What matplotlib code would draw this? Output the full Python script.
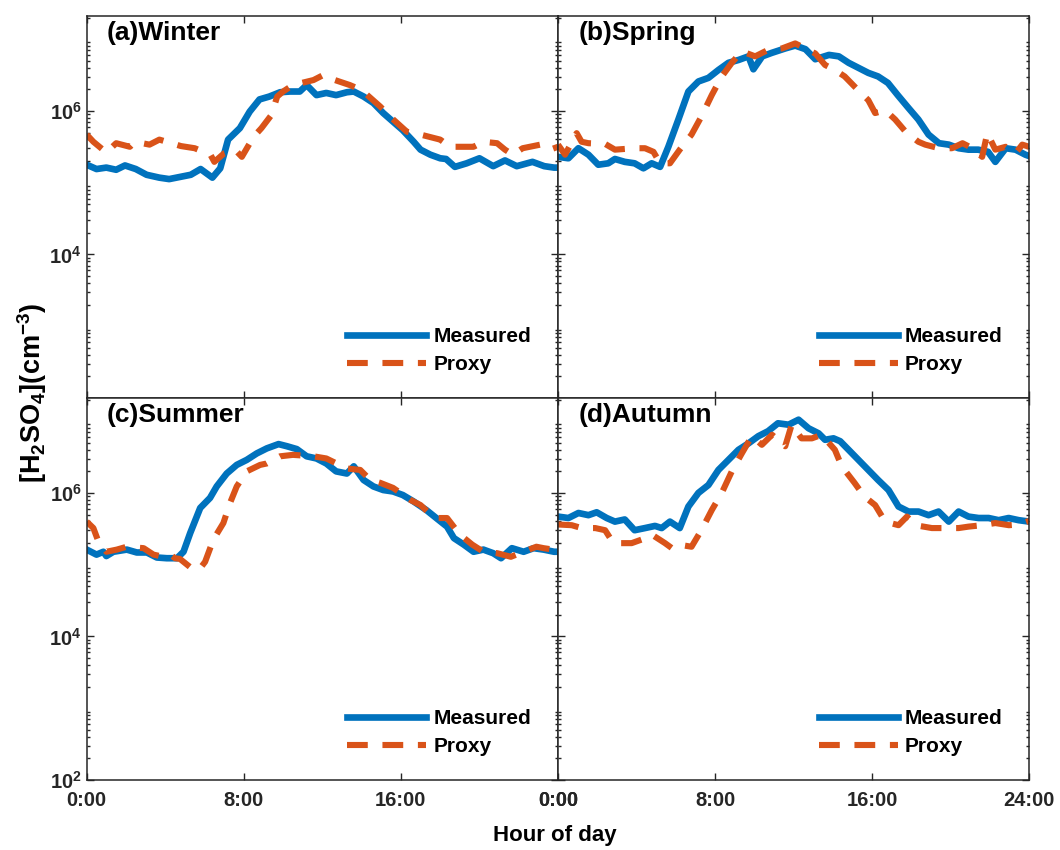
import matplotlib
matplotlib.use("Agg")
import matplotlib.pyplot as plt
import numpy as np
from matplotlib.ticker import FixedLocator, LogLocator, NullFormatter, FuncFormatter

plt.rcParams['font.family'] = ['Liberation Sans', 'DejaVu Sans']
plt.rcParams['font.weight'] = 'bold'
plt.rcParams['mathtext.fontset'] = 'custom'
plt.rcParams['mathtext.rm'] = 'Liberation Sans:bold'
plt.rcParams['mathtext.bf'] = 'Liberation Sans:bold'
plt.rcParams['mathtext.it'] = 'Liberation Sans:bold'

# diurnal H2SO4, log10 of concentration (cm^-3) against hour of day
winter_meas_h = [0, 0.5, 1.0, 1.5, 1.95, 2.5, 3.05, 3.7, 4.2, 4.75, 5.3, 5.8, 6.4, 6.8, 7.2, 7.8,
                 8.3, 8.8, 9.3, 9.85, 10.35, 10.85, 11.2, 11.7, 12.2, 12.7, 13.25, 13.6, 14.1,
                 14.6, 15.1, 15.6, 16.1, 16.65, 17.0, 17.5, 18.0, 18.3, 18.75, 19.35, 20.0,
                 20.7, 21.3, 21.9, 22.7, 23.3, 23.8, 24]
winter_meas = [5.25, 5.19, 5.21, 5.18, 5.24, 5.19, 5.11, 5.07, 5.05, 5.08, 5.11, 5.19, 5.07, 5.20,
               5.60, 5.76, 5.99, 6.16, 6.20, 6.26, 6.27, 6.27, 6.36, 6.22, 6.25, 6.22, 6.26, 6.27,
               6.20, 6.11, 5.97, 5.85, 5.73, 5.57, 5.46, 5.39, 5.34, 5.33, 5.22, 5.27, 5.34,
               5.23, 5.31, 5.23, 5.29, 5.23, 5.21, 5.21]
winter_proxy_h = [0, 0.34, 1.0, 1.5, 2.2, 2.45, 3.2, 3.7, 4.8, 5.5, 6.3, 6.5, 7.0, 7.55, 7.9, 8.5,
                  8.9, 9.4, 9.7, 10.0, 10.5, 11.55, 12.05, 12.2, 13.4, 14.0, 14.95, 15.45, 16.3,
                  17.0, 18.0, 18.5, 19.7, 20.2, 20.9, 21.3, 21.7, 22.2, 23.1, 23.6, 24]
winter_proxy = [5.67, 5.57, 5.42, 5.55, 5.50, 5.57, 5.53, 5.60, 5.51, 5.48, 5.39, 5.29, 5.41, 5.46,
                5.36, 5.64, 5.76, 5.94, 6.20, 6.27, 6.36, 6.43, 6.50, 6.47, 6.36, 6.29, 6.06,
                5.92, 5.71, 5.67, 5.60, 5.50, 5.50, 5.57, 5.55, 5.46, 5.39, 5.48, 5.53, 5.46, 5.50]

spring_meas_h = [0, 0.53, 1.04, 1.55, 2.05, 2.56, 2.9, 3.4, 3.9, 4.35, 4.77, 5.2, 5.62, 6.13, 6.64,
                 7.15, 7.66, 8.17, 8.68, 9.2, 9.7, 9.95, 10.4, 10.9, 11.57, 12.08, 12.6, 13.1,
                 13.8, 14.3, 14.8, 15.3, 15.8, 16.3, 16.8, 17.3, 17.85, 18.35, 18.87, 19.4, 19.9,
                 20.4, 20.9, 21.4, 21.9, 22.27, 22.8, 23.3, 23.8, 24]
spring_meas = [5.36, 5.34, 5.48, 5.39, 5.25, 5.27, 5.33, 5.29, 5.27, 5.20, 5.27, 5.22, 5.50, 5.88,
               6.27, 6.41, 6.46, 6.57, 6.67, 6.71, 6.76, 6.58, 6.76, 6.81, 6.87, 6.91, 6.86, 6.72,
               6.78, 6.76, 6.67, 6.60, 6.53, 6.48, 6.39, 6.22, 6.04, 5.88, 5.67, 5.55, 5.53,
               5.48, 5.46, 5.46, 5.43, 5.29, 5.48, 5.46, 5.39, 5.37]
spring_proxy_h = [0, 0.36, 0.95, 1.2, 1.55, 2.4, 2.9, 3.9, 4.43, 4.86, 5.2, 5.7, 6.2, 6.8, 7.3, 7.83,
                  8.34, 8.85, 9.36, 10.04, 10.7, 11.4, 12.08, 12.6, 13.1, 13.6, 14.1, 14.6, 15.1,
                  15.8, 16.15, 16.66, 17.17, 17.7, 18.35, 18.7, 19.4, 20.06, 20.6, 21.1, 21.6,
                  21.86, 22.27, 22.8, 23.3, 23.64, 24]
spring_proxy = [5.53, 5.39, 5.69, 5.57, 5.55, 5.54, 5.46, 5.48, 5.48, 5.43, 5.27, 5.27, 5.46, 5.67,
                5.92, 6.22, 6.48, 6.67, 6.83, 6.76, 6.85, 6.87, 6.94, 6.87, 6.80, 6.64, 6.57, 6.48,
                6.34, 6.15, 5.97, 6.01, 5.88, 5.71, 5.57, 5.53, 5.48, 5.48, 5.55, 5.48, 5.36,
                5.69, 5.46, 5.50, 5.41, 5.53, 5.50]

summer_meas_h = [0, 0.5, 0.85, 1.0, 1.36, 2.04, 2.55, 3.06, 3.57, 4.08, 4.6, 4.93, 5.27, 5.78, 6.28,
                 6.62, 7.13, 7.64, 8.15, 8.66, 9.17, 9.77, 10.2, 10.7, 11.2, 11.7, 12.2, 12.7,
                 13.25, 13.6, 14.1, 14.6, 15.1, 15.6, 16.1, 16.65, 17.3, 17.8, 18.35, 18.7, 19.2,
                 19.7, 20.2, 20.7, 21.1, 21.65, 22.25, 22.76, 23.27, 23.8, 24]
summer_meas = [5.21, 5.14, 5.18, 5.12, 5.18, 5.21, 5.17, 5.17, 5.10, 5.09, 5.09, 5.18, 5.44, 5.79,
               5.93, 6.09, 6.27, 6.39, 6.46, 6.55, 6.62, 6.68, 6.65, 6.61, 6.51, 6.48, 6.41, 6.30,
               6.27, 6.37, 6.18, 6.09, 6.04, 6.02, 5.97, 5.88, 5.76, 5.65, 5.53, 5.37, 5.28,
               5.18, 5.21, 5.16, 5.09, 5.23, 5.18, 5.23, 5.21, 5.18, 5.18]
summer_proxy_h = [0, 0.34, 0.6, 1.0, 1.53, 2.04, 2.9, 3.4, 3.9, 4.25, 4.5, 4.75, 5.43, 5.78, 6.03,
                  6.45, 6.96, 7.3, 7.64, 8.15, 8.83, 9.17, 9.85, 10.5, 11.55, 12.2, 13.25, 13.93,
                  14.44, 14.95, 15.6, 16.5, 17.0, 17.7, 18.35, 19.0, 19.63, 20.2, 20.9, 21.6,
                  22.25, 22.9, 23.27, 24]
summer_proxy = [5.60, 5.51, 5.32, 5.18, 5.21, 5.25, 5.23, 5.14, 5.11, 5.14, 5.09, 5.08, 4.93, 4.95,
                5.04, 5.35, 5.58, 5.86, 6.09, 6.30, 6.39, 6.41, 6.51, 6.53, 6.51, 6.48, 6.34, 6.32,
                6.18, 6.14, 6.07, 5.90, 5.83, 5.65, 5.65, 5.42, 5.28, 5.18, 5.16, 5.11, 5.18,
                5.25, 5.23, 5.20]

autumn_meas_h = [0, 0.53, 1.04, 1.55, 1.97, 2.48, 2.9, 3.4, 3.9, 4.43, 4.94, 5.28, 5.7, 6.2, 6.64,
                 7.15, 7.66, 8.17, 8.68, 9.19, 9.7, 10.2, 10.7, 11.2, 11.74, 12.25, 12.76, 13.27,
                 13.6, 14.03, 14.37, 14.8, 15.3, 15.8, 16.3, 16.83, 17.34, 17.85, 18.36, 18.87,
                 19.38, 19.9, 20.4, 20.9, 21.42, 21.93, 22.44, 22.95, 23.46, 24]
autumn_meas = [5.67, 5.65, 5.72, 5.69, 5.73, 5.65, 5.60, 5.63, 5.48, 5.51, 5.54, 5.51, 5.60, 5.51,
               5.81, 6.00, 6.11, 6.32, 6.46, 6.60, 6.69, 6.79, 6.86, 6.97, 6.95, 7.02, 6.90, 6.83,
               6.74, 6.76, 6.72, 6.60, 6.46, 6.32, 6.18, 6.04, 5.81, 5.74, 5.74, 5.69, 5.74,
               5.60, 5.74, 5.67, 5.65, 5.65, 5.62, 5.65, 5.62, 5.60]
autumn_proxy_h = [0, 0.7, 1.2, 1.9, 2.4, 2.82, 3.75, 4.26, 4.77, 5.45, 5.8, 6.13, 6.8, 7.3, 7.83,
                  8.34, 8.85, 9.36, 9.87, 10.38, 10.9, 11.57, 11.9, 12.4, 12.93, 13.43, 14.1,
                  14.45, 15.1, 15.6, 16.15, 16.66, 17.34, 17.77, 18.2, 19.04, 19.7, 20.4, 20.9,
                  21.6, 22.27, 22.96, 23.46, 24]
autumn_proxy = [5.56, 5.55, 5.51, 5.51, 5.48, 5.30, 5.30, 5.35, 5.42, 5.30, 5.23, 5.28, 5.25, 5.48,
                5.76, 6.00, 6.30, 6.55, 6.79, 6.67, 6.81, 6.65, 6.95, 6.76, 6.76, 6.81, 6.60,
                6.37, 6.14, 5.95, 5.83, 5.60, 5.55, 5.67, 5.55, 5.51, 5.51, 5.51, 5.53, 5.55,
                5.58, 5.55, 5.56, 5.61]

titles = ['(a)Winter', '(b)Spring', '(c)Summer', '(d)Autumn']
series = [(winter_meas_h, winter_meas, winter_proxy_h, winter_proxy),
          (spring_meas_h, spring_meas, spring_proxy_h, spring_proxy),
          (summer_meas_h, summer_meas, summer_proxy_h, summer_proxy),
          (autumn_meas_h, autumn_meas, autumn_proxy_h, autumn_proxy)]
hour_ticks = [0, 8, 16, 24]
left_hour_labels = ['0:00', '8:00', '16:00', '0:00']
right_hour_labels = ['0:00', '8:00', '16:00', '24:00']

blue = '#0072BD'
orange = '#D95319'
axcol = '#262626'

fig = plt.figure(figsize=(10.6, 8.5), dpi=100)
W, H = 1060.0, 850.0
x_left, x_right, w = 86.7 / W, 558 / W, 471.3 / W
y_top, y_bot, h = (H - 398) / H, (H - 780) / H, 382 / H
positions = [(x_left, y_top), (x_right, y_top), (x_left, y_bot), (x_right, y_bot)]

for i, (pos, title, s) in enumerate(zip(positions, titles, series)):
    ax = fig.add_axes([pos[0], pos[1], w, h])
    mh, mv, ph, pv = s
    ax.plot(mh, 10 ** np.array(mv), color=blue, lw=4.8, label='Measured',
            solid_joinstyle='round')
    ax.plot(ph, 10 ** np.array(pv), color=orange, lw=4.4, label='Proxy',
            linestyle=(0, (3.4, 2.4)), dash_capstyle='butt')
    ax.set_yscale('log')
    ax.set_xlim(0, 24)
    ax.set_ylim(1e2, 2.1e7)
    ax.set_xticks(hour_ticks)
    ax.yaxis.set_major_locator(FixedLocator([1e2, 1e4, 1e6]))
    ax.yaxis.set_minor_locator(LogLocator(base=10, subs=np.arange(2, 10), numticks=20))
    ax.yaxis.set_minor_formatter(NullFormatter())
    ax.tick_params(which='both', direction='in', top=True, right=True, colors=axcol,
                   labelsize=14.5, width=1)
    ax.tick_params(which='major', length=5)
    ax.tick_params(which='minor', length=2.5)
    ax.tick_params(axis='x', pad=8)
    for sp in ax.spines.values():
        sp.set_color(axcol)
        sp.set_linewidth(1.1)

    if i % 2 == 0:
        ax.yaxis.set_major_formatter(
            FuncFormatter(lambda v, p: r'$\mathbf{10^{%d}}$' % round(np.log10(v))))
        if i == 0:
            ax.set_yticklabels(['', r'$\mathbf{10^{4}}$', r'$\mathbf{10^{6}}$'])
    else:
        ax.set_yticklabels([])
    if i < 2:
        ax.set_xticklabels([])
    elif i == 2:
        ax.set_xticklabels(left_hour_labels)
    else:
        ax.set_xticklabels(right_hour_labels)
    for lbl in ax.get_xticklabels() + ax.get_yticklabels():
        lbl.set_fontweight('bold')

    ax.text(0.043, 0.955, title, transform=ax.transAxes, fontsize=19,
            fontweight='bold', va='center', ha='left', color='black')
    ax.legend(loc='lower left', bbox_to_anchor=(0.553, 0.063), frameon=False,
              handlelength=3.8, handletextpad=0.35, labelspacing=0.42, borderpad=0,
              borderaxespad=0, prop={'size': 15, 'weight': 'bold'})

fig.text(0.030, 1 - 393 / H, r'$\mathbf{[H_2SO_4](cm^{-3})}$', rotation=90, fontsize=19.5,
         ha='center', va='center', color='black')
fig.text(555 / W, 1 - 835 / H, 'Hour of day', fontsize=16, fontweight='bold',
         ha='center', va='center', color='black')

fig.savefig('out.png', dpi=100)
